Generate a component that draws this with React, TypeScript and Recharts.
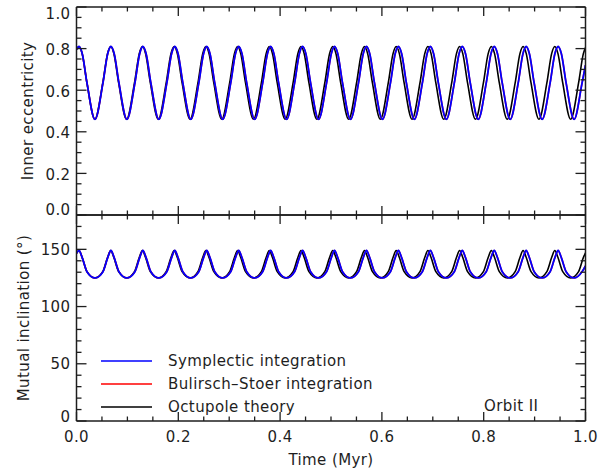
import React from 'react';
import { LineChart, Line, XAxis, YAxis, Legend } from 'recharts';

const W = 608;
const H = 470;
const FONT = '"DejaVu Sans", sans-serif';
const INK = '#1e1e1e';

// ---- sample times (Myr): start, then per cycle peak / descending / mid / trough / mid / ascending ----
const blueTimes = [
  0,
  0.0049, 0.0112, 0.0206, 0.0363, 0.052, 0.0614,
  0.0677, 0.074, 0.0834, 0.0991, 0.1148, 0.1242,
  0.1304, 0.1367, 0.1461, 0.1618, 0.1775, 0.1869,
  0.1932, 0.1995, 0.2089, 0.2246, 0.2403, 0.2497,
  0.2559, 0.2622, 0.2716, 0.2873, 0.303, 0.3124,
  0.3187, 0.325, 0.3344, 0.3501, 0.3658, 0.3752,
  0.3814, 0.3877, 0.3971, 0.4128, 0.4285, 0.4379,
  0.4442, 0.4505, 0.4599, 0.4756, 0.4913, 0.5007,
  0.5069, 0.5132, 0.5226, 0.5383, 0.554, 0.5634,
  0.5697, 0.576, 0.5854, 0.6011, 0.6168, 0.6262,
  0.6324, 0.6387, 0.6481, 0.6638, 0.6795, 0.6889,
  0.6952, 0.7015, 0.7109, 0.7266, 0.7423, 0.7517,
  0.7579, 0.7642, 0.7736, 0.7893, 0.805, 0.8144,
  0.8207, 0.827, 0.8364, 0.8521, 0.8678, 0.8772,
  0.8834, 0.8897, 0.8991, 0.9148, 0.9305, 0.9399,
  0.9462, 0.9525, 0.9619, 0.9776, 0.9933,
  1.0,
];

const blackTimes = [
  0,
  0.0049, 0.0111, 0.0205, 0.0361, 0.0516, 0.061,
  0.0672, 0.0734, 0.0828, 0.0984, 0.1139, 0.1233,
  0.1295, 0.1357, 0.1451, 0.1607, 0.1762, 0.1856,
  0.1919, 0.1981, 0.2075, 0.2231, 0.2386, 0.248,
  0.2542, 0.2604, 0.2698, 0.2854, 0.3009, 0.3103,
  0.3165, 0.3227, 0.3321, 0.3477, 0.3632, 0.3726,
  0.3788, 0.385, 0.3944, 0.41, 0.4255, 0.4349,
  0.4411, 0.4473, 0.4567, 0.4723, 0.4878, 0.4972,
  0.5035, 0.5097, 0.5191, 0.5347, 0.5502, 0.5596,
  0.5658, 0.572, 0.5814, 0.597, 0.6125, 0.6219,
  0.6281, 0.6343, 0.6437, 0.6593, 0.6748, 0.6842,
  0.6904, 0.6966, 0.706, 0.7216, 0.7371, 0.7465,
  0.7527, 0.7589, 0.7683, 0.7839, 0.7994, 0.8088,
  0.8151, 0.8213, 0.8307, 0.8463, 0.8618, 0.8712,
  0.8774, 0.8836, 0.893, 0.9086, 0.9241, 0.9335,
  0.9397, 0.9459, 0.9553, 0.9709, 0.9864, 0.9958,
  1.0,
];

// ---- inner eccentricity ----
const blueEcc = [
  0.796,
  0.81, 0.776, 0.635, 0.46, 0.635, 0.776,
  0.81, 0.776, 0.635, 0.46, 0.635, 0.776,
  0.81, 0.776, 0.635, 0.46, 0.635, 0.776,
  0.81, 0.776, 0.635, 0.46, 0.635, 0.776,
  0.81, 0.776, 0.635, 0.46, 0.635, 0.776,
  0.81, 0.776, 0.635, 0.46, 0.635, 0.776,
  0.81, 0.776, 0.635, 0.46, 0.635, 0.776,
  0.81, 0.776, 0.635, 0.46, 0.635, 0.776,
  0.81, 0.776, 0.635, 0.46, 0.635, 0.776,
  0.81, 0.776, 0.635, 0.46, 0.635, 0.776,
  0.81, 0.776, 0.635, 0.46, 0.635, 0.776,
  0.81, 0.776, 0.635, 0.46, 0.635, 0.776,
  0.81, 0.776, 0.635, 0.46, 0.635, 0.776,
  0.81, 0.776, 0.635, 0.46, 0.635, 0.776,
  0.81, 0.776, 0.635, 0.46, 0.635, 0.776,
  0.81, 0.776, 0.635, 0.46, 0.635,
  0.72,
];

const blackEcc = [
  0.796,
  0.81, 0.776, 0.635, 0.46, 0.635, 0.776,
  0.81, 0.776, 0.635, 0.46, 0.635, 0.776,
  0.81, 0.776, 0.635, 0.46, 0.635, 0.776,
  0.81, 0.776, 0.635, 0.46, 0.635, 0.776,
  0.81, 0.776, 0.635, 0.46, 0.635, 0.776,
  0.81, 0.776, 0.635, 0.46, 0.635, 0.776,
  0.81, 0.776, 0.635, 0.46, 0.635, 0.776,
  0.81, 0.776, 0.635, 0.46, 0.635, 0.776,
  0.81, 0.776, 0.635, 0.46, 0.635, 0.776,
  0.81, 0.776, 0.635, 0.46, 0.635, 0.776,
  0.81, 0.776, 0.635, 0.46, 0.635, 0.776,
  0.81, 0.776, 0.635, 0.46, 0.635, 0.776,
  0.81, 0.776, 0.635, 0.46, 0.635, 0.776,
  0.81, 0.776, 0.635, 0.46, 0.635, 0.776,
  0.81, 0.776, 0.635, 0.46, 0.635, 0.776,
  0.81, 0.776, 0.635, 0.46, 0.635, 0.776,
  0.805,
];

// ---- mutual inclination (deg) ----
const blueInc = [
  146.5,
  149, 142.8, 130.5, 125, 130.5, 142.8,
  149, 142.8, 130.5, 125, 130.5, 142.8,
  149, 142.8, 130.5, 125, 130.5, 142.8,
  149, 142.8, 130.5, 125, 130.5, 142.8,
  149, 142.8, 130.5, 125, 130.5, 142.8,
  149, 142.8, 130.5, 125, 130.5, 142.8,
  149, 142.8, 130.5, 125, 130.5, 142.8,
  149, 142.8, 130.5, 125, 130.5, 142.8,
  149, 142.8, 130.5, 125, 130.5, 142.8,
  149, 142.8, 130.5, 125, 130.5, 142.8,
  149, 142.8, 130.5, 125, 130.5, 142.8,
  149, 142.8, 130.5, 125, 130.5, 142.8,
  149, 142.8, 130.5, 125, 130.5, 142.8,
  149, 142.8, 130.5, 125, 130.5, 142.8,
  149, 142.8, 130.5, 125, 130.5, 142.8,
  149, 142.8, 130.5, 125, 130.5,
  135.5,
];

const blackInc = [
  146.5,
  149, 142.8, 130.5, 125, 130.5, 142.8,
  149, 142.8, 130.5, 125, 130.5, 142.8,
  149, 142.8, 130.5, 125, 130.5, 142.8,
  149, 142.8, 130.5, 125, 130.5, 142.8,
  149, 142.8, 130.5, 125, 130.5, 142.8,
  149, 142.8, 130.5, 125, 130.5, 142.8,
  149, 142.8, 130.5, 125, 130.5, 142.8,
  149, 142.8, 130.5, 125, 130.5, 142.8,
  149, 142.8, 130.5, 125, 130.5, 142.8,
  149, 142.8, 130.5, 125, 130.5, 142.8,
  149, 142.8, 130.5, 125, 130.5, 142.8,
  149, 142.8, 130.5, 125, 130.5, 142.8,
  149, 142.8, 130.5, 125, 130.5, 142.8,
  149, 142.8, 130.5, 125, 130.5, 142.8,
  149, 142.8, 130.5, 125, 130.5, 142.8,
  149, 142.8, 130.5, 125, 130.5, 142.8,
  147,
];

// Bulirsch–Stoer integration coincides with the symplectic run at this scale
const redTimes = blueTimes;
const redEcc = blueEcc;
const redInc = blueInc;

// ---- ticks & labels ----
const timeTicks = [0, 0.05, 0.1, 0.15, 0.2, 0.25, 0.3, 0.35, 0.4, 0.45, 0.5, 0.55, 0.6, 0.65, 0.7, 0.75, 0.8, 0.85, 0.9, 0.95, 1.0];
const timeMajor = [0, 0.2, 0.4, 0.6, 0.8, 1.0];
const timeLabels = ['0.0', '0.2', '0.4', '0.6', '0.8', '1.0'];

const eccTicks = [0, 0.05, 0.1, 0.15, 0.2, 0.25, 0.3, 0.35, 0.4, 0.45, 0.5, 0.55, 0.6, 0.65, 0.7, 0.75, 0.8, 0.85, 0.9, 0.95, 1.0];
const eccMajor = [0, 0.2, 0.4, 0.6, 0.8, 1.0];
const eccLabels = ['0.0', '0.2', '0.4', '0.6', '0.8', '1.0'];

const incTicks = [0, 10, 20, 30, 40, 50, 60, 70, 80, 90, 100, 110, 120, 130, 140, 150, 160, 170, 180];
const incMajor = [0, 50, 100, 150];
const incLabels = ['0', '50', '100', '150'];

const legendNames = ['Symplectic integration', 'Bulirsch\u2013Stoer integration', 'Octupole theory'];
const legendColors = ['#0000ff', '#ff0000', '#000000'];

const rows = (ts: number[], vs: number[]) => ts.map((t, i) => ({ t, v: vs[i] }));

const textStyle = { fontFamily: FONT, fontSize: 15, letterSpacing: 0.4, fill: INK };

type Side = 'left' | 'right' | 'top' | 'bottom';

function makeTick(side: Side, majors: number[], labels: string[] | null, majorLen: number, minorLen: number, shift?: (v: number) => number) {
  return (props: any) => {
    const { x, y, payload } = props;
    const v = payload.value;
    const idx = majors.findIndex((m) => Math.abs(m - v) < 1e-9);
    const major = idx >= 0;
    const len = major ? majorLen : minorLen;
    let line;
    if (side === 'left') line = <line x1={x} y1={y} x2={x + len} y2={y} stroke={INK} strokeWidth={1.3} />;
    else if (side === 'right') line = <line x1={x} y1={y} x2={x - len} y2={y} stroke={INK} strokeWidth={1.3} />;
    else if (side === 'top') line = <line x1={x} y1={y} x2={x} y2={y + len} stroke={INK} strokeWidth={1.3} />;
    else line = <line x1={x} y1={y} x2={x} y2={y - len} stroke={INK} strokeWidth={1.3} />;
    let label = null;
    if (major && labels) {
      if (side === 'left') {
        label = (
          <text x={x - 6} y={y + (shift ? shift(v) : 0)} textAnchor="end" dominantBaseline="central" style={textStyle}>
            {labels[idx]}
          </text>
        );
      } else if (side === 'bottom') {
        label = (
          <text x={x} y={y + 16} textAnchor="middle" dominantBaseline="central" style={textStyle}>
            {labels[idx]}
          </text>
        );
      }
    }
    return (
      <g>
        {line}
        {label}
      </g>
    );
  };
}

const axisLine = { stroke: INK, strokeWidth: 1.5 };

const yTitle = (text: string, cx: number, cy: number) => () => (
  <text
    x={cx}
    y={cy}
    transform={`rotate(-90 ${cx} ${cy})`}
    textAnchor="middle"
    dominantBaseline="central"
    style={textStyle}
  >
    {text}
  </text>
);

const xTitle = (text: string, cx: number, cy: number) => () => (
  <text x={cx} y={cy} textAnchor="middle" dominantBaseline="central" style={textStyle}>
    {text}
  </text>
);

const LegendBox = () => (
  <div style={{ position: 'relative', fontFamily: FONT, fontSize: 15, letterSpacing: 0.4, color: INK }}>
    {legendNames.map((name, i) => (
      <div key={name} style={{ display: 'flex', alignItems: 'center', height: 23 }}>
        <svg width={51} height={4} style={{ display: 'block' }}>
          <line x1={0} y1={2} x2={51} y2={2} stroke={legendColors[i]} strokeWidth={1.3} />
        </svg>
        <span style={{ marginLeft: 16, whiteSpace: 'nowrap' }}>{name}</span>
      </div>
    ))}
    <span style={{ position: 'absolute', left: 383, top: 46, lineHeight: '23px', whiteSpace: 'nowrap' }}>Orbit II</span>
  </div>
);

const AX = 1; // thickness given to each axis box (an axis with zero size is not drawn)
const PLOT_LEFT = 76.5;
const PLOT_RIGHT = 585.5;

function Panel(props: {
  top: number;
  bottom: number;
  yTicks: number[];
  yMajor: number[];
  yLabels: string[];
  yDomain: [number, number];
  shift: (v: number) => number;
  blue: any[];
  red: any[];
  black: any[];
  title: () => any;
  showX: boolean;
  children?: any;
}) {
  const { top, bottom, yTicks, yMajor, yLabels, yDomain, shift, blue, red, black, title, showX } = props;
  return (
    <div style={{ position: 'absolute', left: 0, top: 0 }}>
      <LineChart
        width={W}
        height={H}
        margin={{ top: top - AX, bottom: H - bottom - AX, left: PLOT_LEFT - AX, right: W - PLOT_RIGHT - AX }}
      >
        <XAxis
          xAxisId="b"
          orientation="bottom"
          dataKey="t"
          type="number"
          domain={[0, 1]}
          allowDataOverflow
          ticks={timeTicks}
          interval={0}
          height={AX}
          tickSize={0}
          tickMargin={0}
          tickLine={false}
          axisLine={axisLine}
          tick={makeTick('bottom', timeMajor, showX ? timeLabels : null, 9, 4.5)}
          label={showX ? xTitle('Time (Myr)', 331, 460) : undefined}
        />
        <XAxis
          xAxisId="t"
          orientation="top"
          dataKey="t"
          type="number"
          domain={[0, 1]}
          allowDataOverflow
          ticks={timeTicks}
          interval={0}
          height={AX}
          tickSize={0}
          tickMargin={0}
          tickLine={false}
          axisLine={axisLine}
          tick={makeTick('top', timeMajor, null, 9, 4.5)}
        />
        <YAxis
          yAxisId="l"
          orientation="left"
          type="number"
          domain={yDomain}
          allowDataOverflow
          ticks={yTicks}
          interval={0}
          width={AX}
          tickSize={0}
          tickMargin={0}
          tickLine={false}
          axisLine={axisLine}
          tick={makeTick('left', yMajor, yLabels, 10, 5, shift)}
          label={title}
        />
        <YAxis
          yAxisId="r"
          orientation="right"
          type="number"
          domain={yDomain}
          allowDataOverflow
          ticks={yTicks}
          interval={0}
          width={AX}
          tickSize={0}
          tickMargin={0}
          tickLine={false}
          axisLine={axisLine}
          tick={makeTick('right', yMajor, null, 10, 5)}
        />
        <Line
          data={black}
          xAxisId="b"
          yAxisId="l"
          dataKey="v"
          type="monotone"
          stroke="#000000"
          strokeWidth={1.6}
          dot={false}
          isAnimationActive={false}
        />
        <Line
          data={red}
          xAxisId="t"
          yAxisId="r"
          dataKey="v"
          type="monotone"
          stroke="#ff0000"
          strokeWidth={1.6}
          dot={false}
          isAnimationActive={false}
        />
        <Line
          data={blue}
          xAxisId="b"
          yAxisId="l"
          dataKey="v"
          type="monotone"
          stroke="#0000ff"
          strokeWidth={1.8}
          dot={false}
          isAnimationActive={false}
        />
        {props.children}
      </LineChart>
    </div>
  );
}

export default function App() {
  return (
    <div style={{ position: 'absolute', left: 0, top: 0, width: W, height: H, background: '#ffffff' }}>
      <Panel
        top={7}
        bottom={215}
        yTicks={eccTicks}
        yMajor={eccMajor}
        yLabels={eccLabels}
        yDomain={[0, 1]}
        shift={(v) => (v >= 1 ? 7.3 : v <= 0 ? -5.5 : 1.4)}
        blue={rows(blueTimes, blueEcc)}
        red={rows(redTimes, redEcc)}
        black={rows(blackTimes, blackEcc)}
        title={yTitle('Inner eccentricity', 27.5, 111)}
        showX={false}
      />
      <Panel
        top={215}
        bottom={421}
        yTicks={incTicks}
        yMajor={incMajor}
        yLabels={incLabels}
        yDomain={[0, 180]}
        shift={(v) => (v <= 0 ? -4 : 0.6)}
        blue={rows(blueTimes, blueInc)}
        red={rows(redTimes, redInc)}
        black={rows(blackTimes, blackInc)}
        title={yTitle('Mutual inclination (\u00b0)', 24, 318)}
        showX={true}
      >
        <Legend
          layout="vertical"
          align="center"
          verticalAlign="middle"
          width={480}
          wrapperStyle={{ left: 101, top: 349 }}
          content={() => <LegendBox />}
        />
      </Panel>
    </div>
  );
}
